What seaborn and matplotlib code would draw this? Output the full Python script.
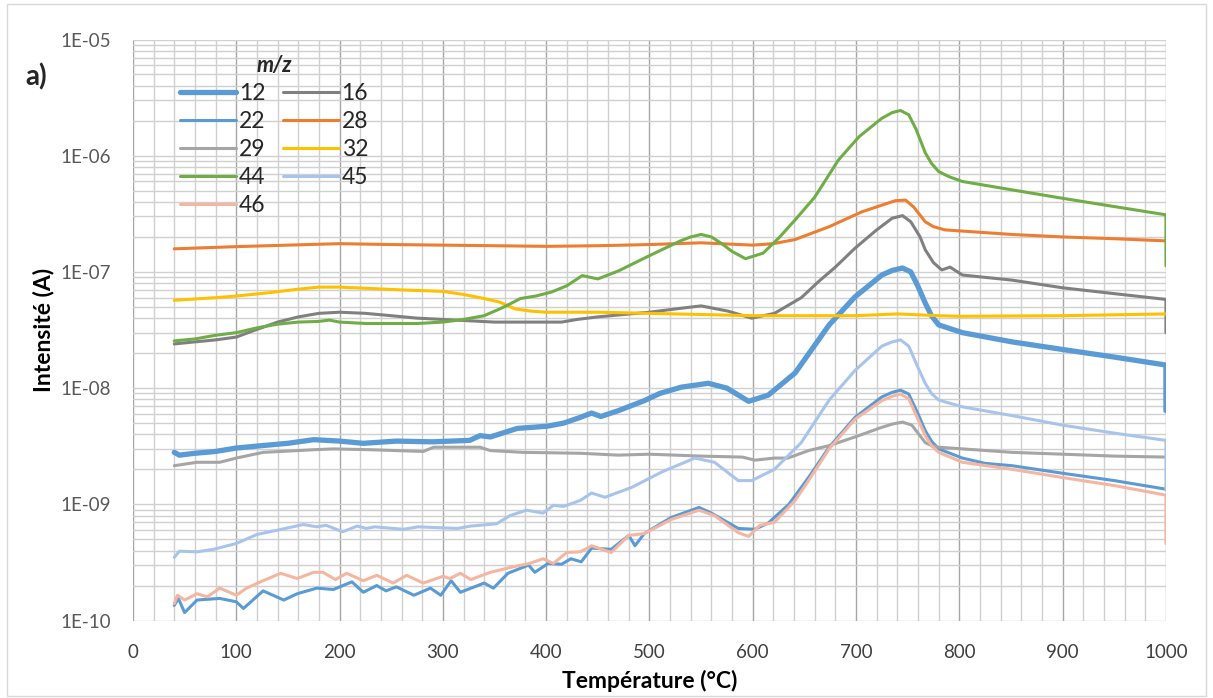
import numpy as np
import seaborn as sns
import matplotlib.pyplot as plt
from matplotlib.ticker import MultipleLocator, LogLocator, FuncFormatter, NullFormatter
from matplotlib.patches import Rectangle

# m/z 12 (ligne épaisse)
t12 = [40, 45, 60, 80, 100, 125, 150, 175, 200, 223, 255, 290, 326, 336, 346, 372, 401, 417, 433, 444, 453,
       470, 495, 510, 531, 557, 575, 596, 615, 641, 674, 699, 725, 735, 745, 753, 760, 767, 773, 780, 803, 851,
       900, 950, 1000, 1000]
i12 = [2.8e-9, 2.65e-9, 2.75e-9, 2.85e-9, 3.05e-9, 3.2e-9, 3.35e-9, 3.6e-9, 3.5e-9, 3.35e-9, 3.5e-9, 3.45e-9,
       3.55e-9, 3.9e-9, 3.8e-9, 4.5e-9, 4.7e-9, 5.0e-9, 5.6e-9, 6.1e-9, 5.7e-9, 6.4e-9, 7.8e-9, 9.0e-9, 1.02e-8,
       1.1e-8, 1.0e-8, 7.7e-9, 8.7e-9, 1.35e-8, 3.5e-8, 6.1e-8, 9.4e-8, 1.03e-7, 1.08e-7, 1.0e-7, 7.5e-8, 5.4e-8,
       4.2e-8, 3.5e-8, 3.0e-8, 2.5e-8, 2.15e-8, 1.85e-8, 1.58e-8, 6.4e-9]

# m/z 16
t16 = [40, 60, 80, 100, 120, 140, 160, 180, 200, 225, 250, 275, 300, 325, 350, 375, 400, 415, 430, 450, 475,
       500, 525, 550, 576, 599, 621, 647, 664, 680, 699, 720, 735, 745, 753, 762, 767, 775, 783, 791, 803, 851,
       900, 950, 1000, 1000]
i16 = [2.4e-8, 2.5e-8, 2.6e-8, 2.75e-8, 3.2e-8, 3.7e-8, 4.1e-8, 4.4e-8, 4.5e-8, 4.4e-8, 4.2e-8, 4.0e-8, 3.9e-8,
       3.8e-8, 3.7e-8, 3.7e-8, 3.7e-8, 3.7e-8, 3.9e-8, 4.1e-8, 4.3e-8, 4.5e-8, 4.8e-8, 5.1e-8, 4.6e-8, 4.0e-8,
       4.4e-8, 6.0e-8, 8.3e-8, 1.1e-7, 1.6e-7, 2.3e-7, 2.9e-7, 3.05e-7, 2.7e-7, 2.0e-7, 1.55e-7, 1.2e-7, 1.04e-7,
       1.1e-7, 9.4e-8, 8.5e-8, 7.3e-8, 6.5e-8, 5.8e-8, 3.0e-8]

# m/z 22
t22 = [40, 44, 50, 62, 84, 100, 107, 126, 146, 159, 178, 194, 212, 223, 236, 245, 255, 272, 288, 298, 308, 317,
       340, 349, 363, 383, 389, 402, 415, 424, 434, 444, 463, 480, 486, 495, 521, 548, 560, 586, 602, 615, 635,
       654, 674, 699, 725, 735, 743, 751, 760, 767, 773, 780, 803, 825, 851, 900, 950, 1000]
i22 = [1.35e-10, 1.55e-10, 1.17e-10, 1.5e-10, 1.55e-10, 1.45e-10, 1.27e-10, 1.8e-10, 1.5e-10, 1.7e-10, 1.9e-10,
       1.85e-10, 2.15e-10, 1.75e-10, 2.0e-10, 1.8e-10, 1.95e-10, 1.65e-10, 1.9e-10, 1.65e-10, 2.2e-10, 1.75e-10,
       2.1e-10, 1.9e-10, 2.55e-10, 3.0e-10, 2.6e-10, 3.1e-10, 3.05e-10, 3.4e-10, 3.2e-10, 4.2e-10, 4.1e-10,
       5.4e-10, 4.4e-10, 5.6e-10, 7.7e-10, 9.4e-10, 8.4e-10, 6.2e-10, 6.1e-10, 6.9e-10, 1.0e-9, 1.7e-9, 3.1e-9,
       5.6e-9, 8.4e-9, 9.2e-9, 9.6e-9, 8.9e-9, 6.0e-9, 4.3e-9, 3.5e-9, 3.0e-9, 2.5e-9, 2.25e-9, 2.15e-9, 1.85e-9,
       1.6e-9, 1.35e-9]

# m/z 28
t28 = [40, 100, 150, 200, 250, 300, 350, 400, 450, 500, 550, 600, 620, 641, 674, 706, 738, 748, 756, 767, 775,
       786, 851, 900, 950, 1000]
i28 = [1.58e-7, 1.65e-7, 1.7e-7, 1.75e-7, 1.72e-7, 1.7e-7, 1.68e-7, 1.66e-7, 1.68e-7, 1.72e-7, 1.78e-7, 1.7e-7,
       1.75e-7, 1.9e-7, 2.45e-7, 3.3e-7, 4.1e-7, 4.15e-7, 3.6e-7, 2.7e-7, 2.45e-7, 2.3e-7, 2.1e-7, 2.0e-7,
       1.93e-7, 1.85e-7]

# m/z 29
t29 = [40, 62, 84, 100, 126, 143, 175, 194, 230, 281, 291, 336, 346, 378, 433, 470, 500, 550, 590, 602, 621, 634,
       654, 674, 699, 725, 735, 745, 754, 760, 767, 773, 780, 851, 900, 950, 1000]
i29 = [2.15e-9, 2.3e-9, 2.3e-9, 2.5e-9, 2.8e-9, 2.85e-9, 2.95e-9, 3.0e-9, 2.95e-9, 2.85e-9, 3.1e-9, 3.1e-9,
       2.9e-9, 2.8e-9, 2.75e-9, 2.65e-9, 2.7e-9, 2.6e-9, 2.55e-9, 2.4e-9, 2.5e-9, 2.5e-9, 2.9e-9, 3.2e-9, 3.8e-9,
       4.6e-9, 4.9e-9, 5.1e-9, 4.8e-9, 4.1e-9, 3.4e-9, 3.2e-9, 3.1e-9, 2.8e-9, 2.7e-9, 2.6e-9, 2.55e-9]

# m/z 32
t32 = [40, 80, 100, 130, 160, 180, 200, 230, 260, 300, 320, 340, 355, 370, 385, 400, 450, 500, 550, 600, 650,
       700, 740, 780, 800, 900, 1000]
i32 = [5.7e-8, 6.0e-8, 6.2e-8, 6.6e-8, 7.1e-8, 7.4e-8, 7.4e-8, 7.2e-8, 7.0e-8, 6.8e-8, 6.4e-8, 5.9e-8, 5.5e-8,
       4.8e-8, 4.6e-8, 4.5e-8, 4.5e-8, 4.4e-8, 4.3e-8, 4.2e-8, 4.2e-8, 4.2e-8, 4.35e-8, 4.2e-8, 4.15e-8, 4.2e-8,
       4.35e-8]

# m/z 44
t44 = [40, 60, 80, 100, 120, 140, 160, 180, 190, 200, 225, 250, 275, 300, 320, 340, 355, 365, 375, 390, 405, 420,
       435, 450, 470, 500, 530, 540, 550, 560, 570, 580, 593, 610, 625, 641, 660, 683, 703, 725, 735, 743, 751,
       758, 767, 773, 780, 790, 803, 850, 900, 950, 1000, 1000]
i44 = [2.55e-8, 2.65e-8, 2.85e-8, 3.0e-8, 3.3e-8, 3.55e-8, 3.7e-8, 3.75e-8, 3.85e-8, 3.7e-8, 3.6e-8, 3.6e-8,
       3.6e-8, 3.7e-8, 3.9e-8, 4.2e-8, 4.8e-8, 5.3e-8, 5.9e-8, 6.2e-8, 6.7e-8, 7.6e-8, 9.3e-8, 8.7e-8, 1.02e-7,
       1.38e-7, 1.85e-7, 2.0e-7, 2.1e-7, 2.0e-7, 1.75e-7, 1.5e-7, 1.3e-7, 1.45e-7, 1.95e-7, 2.8e-7, 4.4e-7, 9.2e-7,
       1.46e-6, 2.1e-6, 2.35e-6, 2.45e-6, 2.25e-6, 1.7e-6, 1.06e-6, 8.6e-7, 7.3e-7, 6.6e-7, 6.0e-7, 5.1e-7,
       4.3e-7, 3.65e-7, 3.1e-7, 1.13e-7]

# m/z 45
t45 = [40, 45, 62, 78, 100, 120, 140, 165, 178, 187, 203, 217, 226, 234, 262, 276, 314, 327, 352, 365, 381, 397,
       407, 417, 433, 444, 457, 483, 512, 544, 563, 586, 599, 621, 647, 674, 699, 725, 735, 743, 751, 760, 767,
       773, 780, 803, 851, 900, 950, 1000, 1000]
i45 = [3.5e-10, 3.95e-10, 3.9e-10, 4.1e-10, 4.6e-10, 5.5e-10, 6.0e-10, 6.7e-10, 6.4e-10, 6.6e-10, 5.8e-10,
       6.5e-10, 6.2e-10, 6.4e-10, 6.1e-10, 6.4e-10, 6.2e-10, 6.5e-10, 6.8e-10, 8.0e-10, 8.9e-10, 8.4e-10, 9.8e-10,
       9.6e-10, 1.08e-9, 1.25e-9, 1.15e-9, 1.4e-9, 1.9e-9, 2.5e-9, 2.3e-9, 1.6e-9, 1.6e-9, 2.0e-9, 3.4e-9, 7.9e-9,
       1.42e-8, 2.3e-8, 2.5e-8, 2.6e-8, 2.3e-8, 1.5e-8, 1.1e-8, 9.0e-9, 7.9e-9, 6.9e-9, 5.8e-9, 4.8e-9, 4.1e-9,
       3.55e-9, 1.32e-9]

# m/z 46
t46 = [40, 43, 50, 62, 72, 84, 100, 110, 126, 143, 159, 175, 184, 196, 207, 223, 236, 252, 265, 281, 300, 307,
       317, 327, 346, 368, 384, 397, 407, 420, 433, 444, 463, 480, 495, 521, 548, 563, 586, 596, 607, 621, 641,
       654, 674, 699, 725, 735, 743, 751, 760, 767, 773, 780, 803, 851, 900, 950, 1000, 1000]
i46 = [1.4e-10, 1.65e-10, 1.5e-10, 1.7e-10, 1.6e-10, 1.9e-10, 1.65e-10, 1.9e-10, 2.2e-10, 2.55e-10, 2.3e-10,
       2.6e-10, 2.6e-10, 2.25e-10, 2.55e-10, 2.2e-10, 2.45e-10, 2.1e-10, 2.45e-10, 2.1e-10, 2.4e-10, 2.3e-10,
       2.55e-10, 2.25e-10, 2.6e-10, 2.9e-10, 3.1e-10, 3.4e-10, 3.1e-10, 3.85e-10, 3.9e-10, 4.4e-10, 3.85e-10,
       5.4e-10, 5.6e-10, 7.4e-10, 8.9e-10, 8.0e-10, 5.7e-10, 5.3e-10, 6.6e-10, 7.0e-10, 1.08e-9, 1.6e-9, 3.0e-9,
       5.4e-9, 7.8e-9, 8.5e-9, 8.9e-9, 8.1e-9, 5.4e-9, 3.9e-9, 3.2e-9, 2.8e-9, 2.3e-9, 2.0e-9, 1.7e-9, 1.45e-9,
       1.2e-9, 4.6e-10]

# séries dans l'ordre d'Excel : (label, T, I, couleur, épaisseur)
series = [
    ('12', t12, i12, '#5B9BD5', 3.8),
    ('16', t16, i16, '#808080', 2.2),
    ('22', t22, i22, '#5B9BD5', 2.2),
    ('28', t28, i28, '#ED7D31', 2.2),
    ('29', t29, i29, '#A5A5A5', 2.2),
    ('32', t32, i32, '#FFC000', 2.2),
    ('44', t44, i44, '#70AD47', 2.2),
    ('45', t45, i45, '#A9C4EB', 2.2),
    ('46', t46, i46, '#F4B6A0', 2.2),
]

sns.set_style('white')
plt.rcParams['font.family'] = ['Lato', 'DejaVu Sans']

fig = plt.figure(figsize=(12.13, 6.98), dpi=100)
ax = fig.add_axes([0.1096, 0.111, 0.8516, 0.8324])

lignes = {}
for nom, t, v, c, lw in series:
    sns.lineplot(x=t, y=v, ax=ax, color=c, linewidth=lw, estimator=None, sort=False,
                 label=nom, solid_capstyle='round', solid_joinstyle='round')
    lignes[nom] = ax.get_lines()[-1]

ax.set_yscale('log')
ax.set_xlim(0, 1000)
ax.set_ylim(1e-10, 1e-5)

# grilles à la façon d'Excel
ax.xaxis.set_major_locator(MultipleLocator(100))
ax.xaxis.set_minor_locator(MultipleLocator(20))
ax.yaxis.set_major_locator(LogLocator(base=10, numticks=10))
ax.yaxis.set_minor_locator(LogLocator(base=10, subs=np.arange(2, 10), numticks=20))
ax.yaxis.set_minor_formatter(NullFormatter())
ax.yaxis.set_major_formatter(FuncFormatter(lambda v, p: '1E-%02d' % int(round(-np.log10(v)))))
ax.grid(which='major', axis='x', color='#a6a6a6', linewidth=1.0)
ax.grid(which='minor', axis='x', color='#d0d0d0', linewidth=1.0)
ax.grid(which='both', axis='y', color='#d0d0d0', linewidth=1.0)
ax.set_axisbelow(True)
for s in ax.spines.values():
    s.set_visible(False)
ax.tick_params(which='both', length=0)
ax.tick_params(axis='y', pad=16, labelsize=13.5, labelcolor='#595959')
ax.tick_params(axis='x', pad=17, labelsize=13.5, labelcolor='#404040')

ax.set_xlabel('Température (°C)', fontsize=16.5, fontweight='bold', color='#000000', labelpad=6)
ax.set_ylabel('Intensité (A)', fontsize=16.5, fontweight='bold', color='#000000', labelpad=4)

# légende : ordre ligne par ligne comme dans Excel
ordre = ['12', '22', '29', '44', '46', '16', '28', '32', '45']
leg = ax.legend([lignes[k] for k in ordre], ordre, ncol=2, loc='upper left',
                bbox_to_anchor=(0.0455, 0.973), frameon=False, fontsize=16.5,
                handlelength=2.45, handletextpad=0.12, columnspacing=0.75,
                labelspacing=0.3, borderpad=0, borderaxespad=0,
                title='m/z', title_fontproperties={'weight': 'bold', 'style': 'italic', 'size': 15.5})

fig.text(36 / 1213, 1 - 77 / 698, 'a)', fontsize=20, fontweight='bold', ha='center', va='center')

# bordure de la zone du graphique
fig.patches.append(Rectangle((7 / 1213, 2 / 698), 1199 / 1213, 692 / 698, transform=fig.transFigure,
                             fill=False, edgecolor='#d9d9d9', linewidth=1.0))

fig.savefig('out.png', dpi=100)
